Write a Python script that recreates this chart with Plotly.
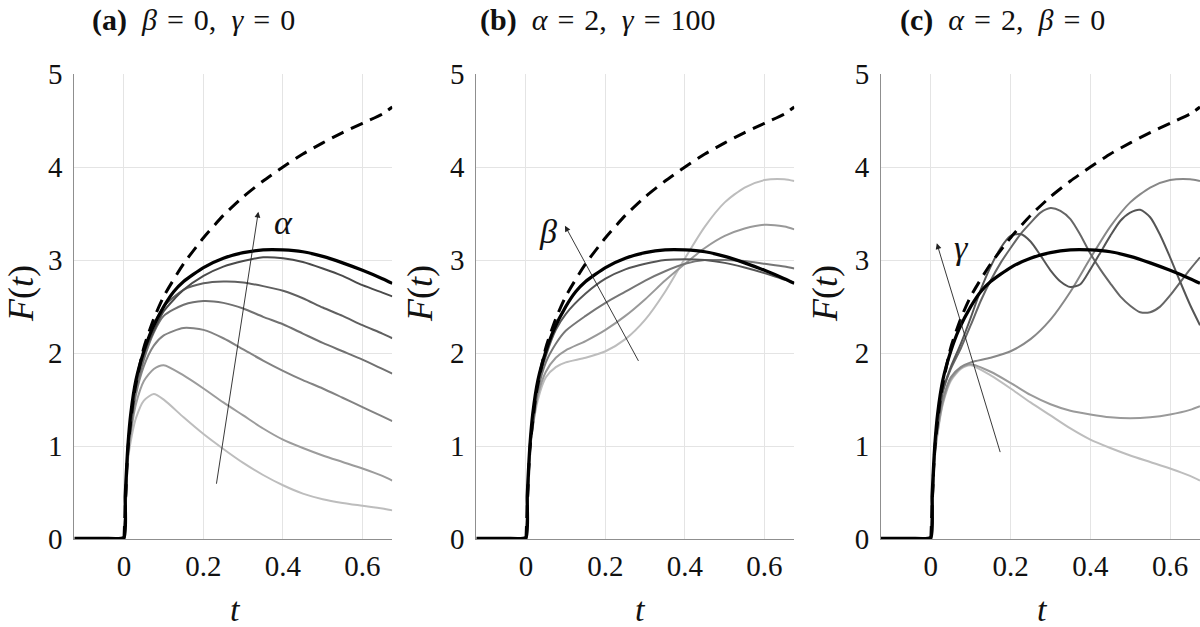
import plotly.graph_objects as go

# common time grid for the model curves
t_model = [0, 0.005, 0.01, 0.02, 0.03, 0.05, 0.075, 0.1, 0.15, 0.2, 0.25, 0.3,
           0.35, 0.4, 0.45, 0.5, 0.55, 0.6, 0.65, 0.675]
# finer grid for the oscillating curves of panel (c)
t_osc = [0, 0.005, 0.01, 0.02, 0.03, 0.05, 0.075, 0.1, 0.125, 0.15, 0.175, 0.2,
         0.225, 0.25, 0.275, 0.3, 0.325, 0.35, 0.375, 0.4, 0.425, 0.45, 0.475,
         0.5, 0.525, 0.55, 0.575, 0.6, 0.625, 0.65, 0.675]

# thick black reference, identical in the three panels
t_ref = [-0.125, -0.05, 0, 0.003, 0.007, 0.01, 0.017, 0.03, 0.05, 0.07, 0.1,
         0.125, 0.15, 0.2, 0.25, 0.3, 0.35, 0.4, 0.45, 0.5, 0.55, 0.6, 0.65, 0.675]
F_ref = [0.01, 0.01, 0.02, 0.46, 0.81, 1.02, 1.35, 1.71, 2.02, 2.25, 2.50,
         2.66, 2.77, 2.92, 3.02, 3.08, 3.11, 3.11, 3.09, 3.04, 2.97, 2.89, 2.80, 2.75]

# dashed upper curve
t_bound = [0, 0.005, 0.01, 0.025, 0.05, 0.075, 0.1, 0.15, 0.2, 0.25, 0.3, 0.35,
           0.4, 0.45, 0.5, 0.55, 0.6, 0.65, 0.675]
F_bound = [0, 0.55, 0.97, 1.55, 2.06, 2.37, 2.61, 2.96, 3.24, 3.48, 3.68, 3.85,
           4.00, 4.14, 4.26, 4.37, 4.47, 4.57, 4.645]

# (a) beta = 0, gamma = 0, alpha sweep (largest alpha first)
F_a1 = [0, 0.45, 0.98, 1.35, 1.68, 2.00, 2.24, 2.45, 2.68, 2.83, 2.93, 2.99,
        3.03, 3.02, 2.98, 2.91, 2.83, 2.73, 2.65, 2.61]
F_a2 = [0, 0.45, 0.97, 1.33, 1.65, 1.97, 2.30, 2.50, 2.68, 2.75, 2.77, 2.76,
        2.72, 2.67, 2.59, 2.49, 2.40, 2.30, 2.21, 2.16]
F_a3 = [0, 0.44, 0.95, 1.30, 1.60, 1.93, 2.22, 2.40, 2.52, 2.56, 2.54, 2.48,
        2.39, 2.31, 2.21, 2.11, 2.02, 1.93, 1.83, 1.78]
F_a4 = [0, 0.43, 0.92, 1.27, 1.55, 1.86, 2.08, 2.19, 2.27, 2.25, 2.16, 2.04,
        1.92, 1.81, 1.71, 1.62, 1.52, 1.42, 1.32, 1.27]
F_a5 = [0, 0.42, 0.88, 1.22, 1.45, 1.70, 1.83, 1.87, 1.76, 1.62, 1.47, 1.33,
        1.19, 1.07, 0.98, 0.90, 0.83, 0.76, 0.68, 0.63]
F_a6 = [0, 0.40, 0.85, 1.12, 1.30, 1.49, 1.56, 1.50, 1.31, 1.13, 0.97, 0.82,
        0.69, 0.58, 0.49, 0.43, 0.39, 0.36, 0.33, 0.31]

# (b) alpha = 2, gamma = 100, beta sweep
F_b1 = [0, 0.45, 0.97, 1.34, 1.66, 1.97, 2.25, 2.42, 2.64, 2.80, 2.90, 2.96,
        3.00, 3.01, 3.00, 2.97, 2.92, 2.86, 2.79, 2.76]
F_b2 = [0, 0.45, 0.96, 1.32, 1.60, 1.90, 2.10, 2.24, 2.40, 2.54, 2.66, 2.78,
        2.88, 2.96, 3.00, 3.00, 2.99, 2.96, 2.93, 2.91]
F_b3 = [0, 0.44, 0.95, 1.30, 1.55, 1.80, 1.95, 2.03, 2.13, 2.25, 2.40, 2.58,
        2.78, 2.96, 3.13, 3.26, 3.34, 3.38, 3.36, 3.33]
# alpha = 2, beta = 0, gamma = 100 (shared by panels b and c)
F_g100 = [0, 0.44, 0.94, 1.28, 1.50, 1.74, 1.85, 1.90, 1.95, 2.02, 2.15, 2.36,
          2.66, 3.02, 3.36, 3.62, 3.78, 3.86, 3.87, 3.85]

# (c) alpha = 2, beta = 0, gamma sweep
F_c1 = [0, 0.45, 0.97, 1.33, 1.60, 1.85, 2.10, 2.38, 2.68, 2.93, 3.13, 3.26,
        3.28, 3.20, 3.05, 2.89, 2.77, 2.71, 2.74, 2.90, 3.08, 3.26, 3.42, 3.51,
        3.54, 3.46, 3.27, 3.03, 2.77, 2.52, 2.30]
F_c2 = [0, 0.45, 0.96, 1.32, 1.58, 1.83, 2.05, 2.30, 2.56, 2.78, 2.97, 3.13,
        3.28, 3.40, 3.51, 3.56, 3.53, 3.44, 3.27, 3.07, 2.90, 2.75, 2.61, 2.51,
        2.44, 2.44, 2.50, 2.62, 2.76, 2.90, 3.03]
F_c4 = [0, 0.43, 0.90, 1.24, 1.47, 1.72, 1.84, 1.88, 1.80, 1.68, 1.55, 1.45,
        1.38, 1.34, 1.31, 1.30, 1.31, 1.34, 1.39, 1.43]

# arrows (tail t, tail F, head t, head F) and their labels
arrow_a = [0.232, 0.58, 0.338, 3.52]
arrow_b = [0.285, 1.90, 0.098, 3.37]
arrow_c = [0.175, 0.92, 0.015, 3.18]
label_pos = [(0.401, 3.40, "α"), (0.056, 3.31, "β"), (0.078, 3.13, "γ")]

EN, TPE = "\u2002", "\u2004"
def eq(sym, val):
    return "<i>" + sym + "</i>" + TPE + "=" + TPE + val

titles = ["<b>(a)</b>" + EN + eq("β", "0") + "," + EN + eq("γ", "0"),
          "<b>(b)</b>" + EN + eq("α", "2") + "," + EN + eq("γ", "100"),
          "<b>(c)</b>" + EN + eq("α", "2") + "," + EN + eq("β", "0")]

FONT = "Liberation Serif"
W, H = 1200, 627
x_dom = [(74.3, 392.3), (476.3, 794.3), (881, 1200)]
y_top, y_bot = 74, 539.2


def px(x):
    return x / W


def py(y):
    return 1 - y / H


panels = [
    [(t_model, F_a6, "#bdbdbd"), (t_model, F_a5, "#9c9c9c"), (t_model, F_a4, "#838383"),
     (t_model, F_a3, "#717171"), (t_model, F_a2, "#606060"), (t_model, F_a1, "#4a4a4a")],
    [(t_model, F_g100, "#bdbdbd"), (t_model, F_b3, "#999999"), (t_model, F_b2, "#767676"),
     (t_model, F_b1, "#555555")],
    [(t_model, F_a5, "#bdbdbd"), (t_model, F_c4, "#9a9a9a"), (t_model, F_g100, "#888888"),
     (t_osc, F_c2, "#666666"), (t_osc, F_c1, "#555555")],
]

fig = go.Figure()
for i, curves in enumerate(panels):
    xa = "x" if i == 0 else f"x{i+1}"
    ya = "y" if i == 0 else f"y{i+1}"
    for tt, ff, col in curves:
        fig.add_trace(go.Scatter(x=tt, y=ff, mode="lines", xaxis=xa, yaxis=ya,
                                 line=dict(color=col, width=2, shape="spline", smoothing=0.7),
                                 showlegend=False))
    fig.add_trace(go.Scatter(x=t_ref, y=F_ref, mode="lines", xaxis=xa, yaxis=ya,
                             line=dict(color="black", width=3.2, shape="spline", smoothing=0.5),
                             showlegend=False))
    fig.add_trace(go.Scatter(x=t_bound, y=F_bound, mode="lines", xaxis=xa, yaxis=ya,
                             line=dict(color="black", width=3, dash="13px,8px",
                                       shape="spline", smoothing=0.6),
                             showlegend=False))

axis_common = dict(showgrid=True, gridcolor="#e4e4e4", gridwidth=1, zeroline=False,
                   showline=True, linecolor="#8f8f8f", linewidth=1,
                   ticks="outside", tickcolor="rgba(0,0,0,0)",
                   tickfont=dict(family=FONT, size=29, color="#111"))

layout = dict(width=W, height=H,
              margin=dict(l=0, r=0, t=0, b=0, autoexpand=False),
              plot_bgcolor="white", paper_bgcolor="white", showlegend=False)
for i in range(3):
    sx = "" if i == 0 else str(i + 1)
    layout["xaxis" + sx] = dict(axis_common, domain=[px(x_dom[i][0]), px(x_dom[i][1])],
                                range=[-0.125, 0.675], tickvals=[0, 0.2, 0.4, 0.6],
                                ticktext=["0", "0.2", "0.4", "0.6"], ticklen=1,
                                anchor="y" + sx)
    layout["yaxis" + sx] = dict(axis_common, domain=[py(y_bot), py(y_top)], range=[0, 5],
                                tickvals=[0, 1, 2, 3, 4, 5], ticklen=5,
                                anchor="x" + sx)
fig.update_layout(**layout)

ann = []
title_x = [194, 598, 1002]
ylab_x = [21, 420, 825]
xlab_x = [235, 640, 1042]
for i in range(3):
    ann.append(dict(text=titles[i], x=px(title_x[i]), y=py(20), xref="paper", yref="paper",
                    showarrow=False, xanchor="center", yanchor="middle",
                    font=dict(family=FONT, size=30, color="#111")))
    ann.append(dict(text="<i>F</i>(<i>t</i>)", x=px(ylab_x[i]), y=py(294), xref="paper",
                    yref="paper", showarrow=False, textangle=-90, xanchor="center",
                    yanchor="middle", font=dict(family=FONT, size=36, color="#111")))
    ann.append(dict(text="<i>t</i>", x=px(xlab_x[i]), y=py(609), xref="paper",
                    yref="paper", showarrow=False, xanchor="center", yanchor="middle",
                    font=dict(family=FONT, size=34, color="#111")))

for i, arr in enumerate([arrow_a, arrow_b, arrow_c]):
    sx = "" if i == 0 else str(i + 1)
    ann.append(dict(x=arr[2], y=arr[3], ax=arr[0], ay=arr[1], xref="x" + sx, yref="y" + sx,
                    axref="x" + sx, ayref="y" + sx, text="", showarrow=True,
                    arrowhead=2, arrowsize=1.3, arrowwidth=0.9, arrowcolor="#222"))
    lx, ly, lt = label_pos[i]
    ann.append(dict(x=lx, y=ly, xref="x" + sx, yref="y" + sx, text="<i>" + lt + "</i>",
                    showarrow=False, xanchor="center", yanchor="middle",
                    font=dict(family=FONT, size=34, color="#111")))

fig.update_layout(annotations=ann)
# drop the browser's default 8px body margin so the figure fills the window
fig.write_html("out.html", config={"displayModeBar": False},
               post_script="document.body.style.margin = '0';")
